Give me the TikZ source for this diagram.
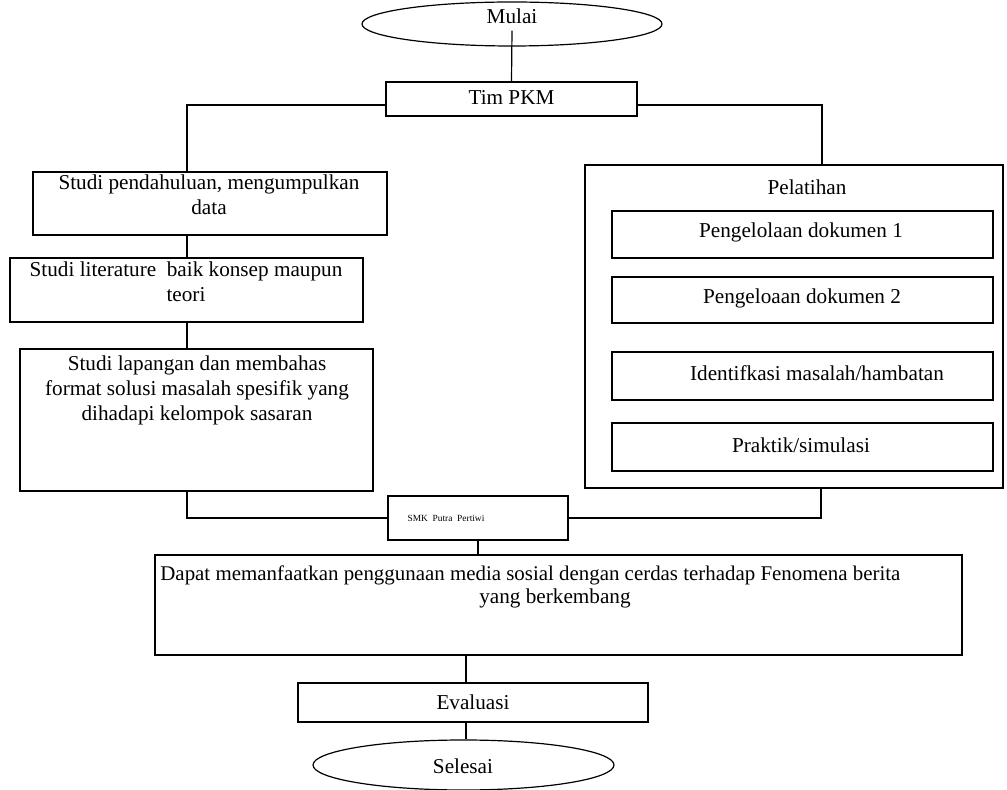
\documentclass[tikz,border=0pt]{standalone}
\usepackage{fontspec}
\setmainfont{Liberation Serif}
\usetikzlibrary{shapes.geometric,fit}
\begin{document}
\begin{tikzpicture}[x=0.5pt,y=-0.5pt,
  box/.style={draw, line width=0.6pt, inner sep=0pt},
  oval/.style={draw, ellipse, line width=0.6pt, inner sep=0pt},
  txt/.style={align=center, inner sep=0pt, font=\fontsize{10.6}{12.5}\selectfont},
  small/.style={align=center, inner sep=0pt, font=\fontsize{4.7}{6}\selectfont},
  conn/.style={line width=0.6pt}]
\useasboundingbox (0,0) rectangle (1007,790);
% helper coordinates
\coordinate (xl) at (187,0);
\coordinate (xr) at (822,0);
\coordinate (xrb) at (821,0);
\coordinate (xm) at (478,0);
\coordinate (xn) at (466,0);
\coordinate (ytop) at (0,105);
\coordinate (ybot) at (0,518);
% start / end
\node[oval, minimum width=150pt, minimum height=22pt] (mulai) at (512,24) {};
\node[txt] (mulait) at (512,16) {Mulai};
\node[oval, minimum width=150.5pt, minimum height=25pt] (selesai) at (463.5,765) {};
\node[txt] (selesait) at (463,766) {Selesai};
% boxes
\node[box, fit={(386,82) (637,116)}] (tim) {};
\node[txt] (timt) at (511.5,97) {Tim PKM};
\node[box, fit={(33,172) (387,235)}] (sp) {};
\node[txt] (spt) at (209,195) {Studi pendahuluan, mengumpulkan\\data};
\node[box, fit={(10,258) (363,322)}] (sl) {};
\node[txt] (slt) at (186,282) {Studi literature\ \ baik konsep maupun\\teori};
\node[box, fit={(20,349) (373,491)}] (slap) {};
\node[txt] (slapt) at (197,390) {Studi lapangan dan membahas\\format solusi masalah spesifik yang\\dihadapi kelompok sasaran};
\node[box, fit={(585,165) (1003,488)}] (pel) {};
\node[txt] (pelt) at (807,187) {Pelatihan};
\node[box, fit={(612,211) (993,258)}] (p1) {};
\node[txt] (p1t) at (801,232) {Pengelolaan dokumen 1};
\node[box, fit={(612,277) (993,323)}] (p2) {};
\node[txt] (p2t) at (802,298) {Pengeloaan dokumen 2};
\node[box, fit={(612,352) (993,400)}] (p3) {};
\node[txt] (p3t) at (817,373) {Identifkasi masalah/hambatan};
\node[box, fit={(612,423) (993,471)}] (p4) {};
\node[txt] (p4t) at (801,445) {Praktik/simulasi};
\node[box, fit={(388,496) (568,540)}] (smk) {};
\node[small] (smkt) at (446,518) {SMK\ \ Putra\ \ Pertiwi};
\node[box, fit={(155,555) (962,655)}] (dapat) {};
\node[txt, anchor=west, font=\fontsize{10.45}{12.5}\selectfont] (dapatt1) at (160,575) {Dapat memanfaatkan penggunaan media sosial dengan cerdas terhadap Fenomena berita};
\node[txt] (dapatt2) at (555,598) {yang berkembang};
\node[box, fit={(298,683) (648,722)}] (eval) {};
\node[txt] (evalt) at (473,702) {Evaluasi};
% connectors
\draw[conn] ([yshift=8pt]mulai.south) -- (tim.north);
\draw[conn] (tim.west |- ytop) -| (xl |- sp.north);
\draw[conn] (tim.east |- ytop) -| (xr |- pel.north);
\draw[conn] (xl |- sp.south) -- (xl |- sl.north);
\draw[conn] (xl |- sl.south) -- (xl |- slap.north);
\draw[conn] (xl |- slap.south) |- (smk.west |- ybot);
\draw[conn] (xrb |- pel.south) |- (smk.east |- ybot);
\draw[conn] (xm |- smk.south) -- (xm |- dapat.north);
\draw[conn] (xn |- dapat.south) -- (xn |- eval.north);
\draw[conn] (xn |- eval.south) -- (xn |- selesai.north);
\end{tikzpicture}
\end{document}
